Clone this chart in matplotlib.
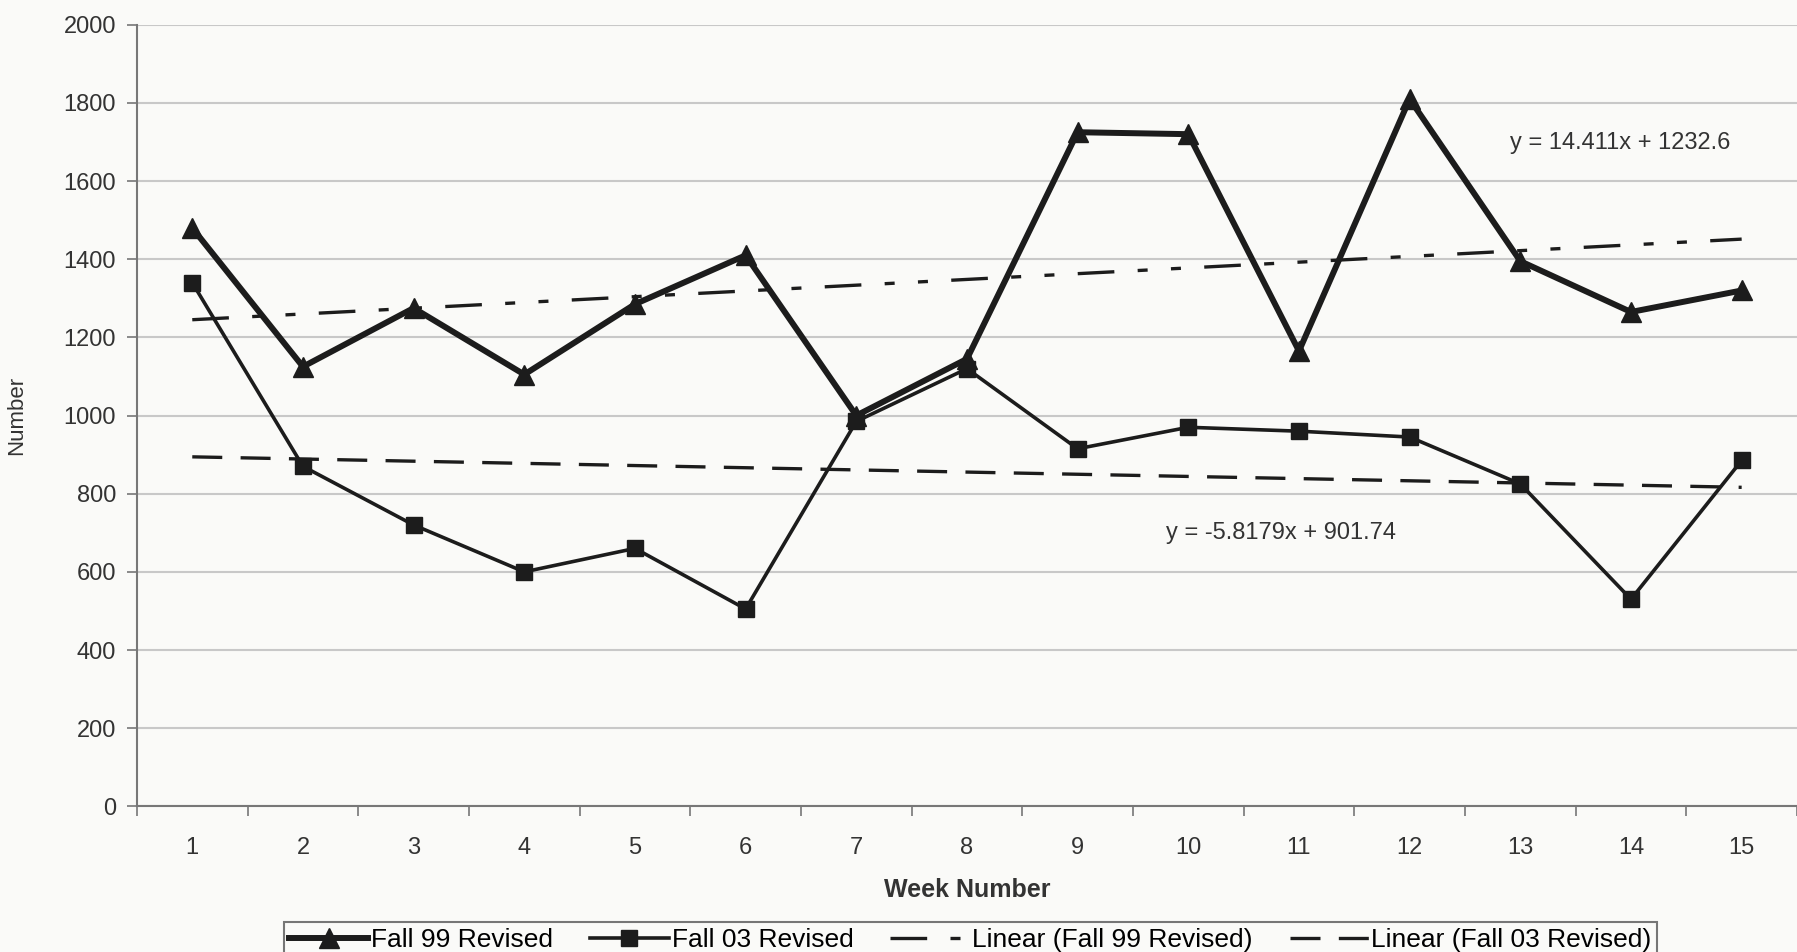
import numpy as np
import matplotlib
matplotlib.use("Agg")
import matplotlib.pyplot as plt

# === Data ===
WEEKS = list(range(1, 16))
FALL_99 = [1480, 1125, 1275, 1105, 1285, 1410, 1000, 1145, 1725, 1720, 1165, 1810, 1395, 1265, 1320]
FALL_03 = [1340, 870, 720, 600, 660, 505, 985, 1120, 915, 970, 960, 945, 825, 530, 885]
Y_TICKS = [0, 200, 400, 600, 800, 1000, 1200, 1400, 1600, 1800, 2000]

plt.rcParams['font.family'] = ['Liberation Sans', 'DejaVu Sans']

INK = '#1c1c1c'
BG = '#fafaf8'
TXT = '#333333'

fig = plt.figure(figsize=(17.97, 9.52), dpi=100, facecolor=BG)
ax = fig.add_axes([0.0762, 0.153, 0.9238, 0.821])
ax.set_facecolor(BG)

x = np.array(WEEKS)

# === Linear trend lines (least squares, like Excel) ===
m99, b99 = np.polyfit(x, FALL_99, 1)
m03, b03 = np.polyfit(x, FALL_03, 1)

ax.plot(x, FALL_99, color=INK, lw=4.3, marker='^', markersize=14, zorder=4,
        label='Fall 99 Revised')
ax.plot(x, FALL_03, color=INK, lw=2.6, marker='s', markersize=11.5, zorder=3,
        label='Fall 03 Revised')
ax.plot(x, m99 * x + b99, color=INK, lw=2.4, linestyle=(0, (11, 7, 3, 7, 3, 7)),
        zorder=2, label='Linear (Fall 99 Revised)')
ax.plot(x, m03 * x + b03, color=INK, lw=2.4, linestyle=(0, (9, 5.5)),
        zorder=2, label='Linear (Fall 03 Revised)')

ax.text(13.9, 1698, "y = 14.411x + 1232.6", ha='center', va='center',
        fontsize=17, color=TXT)
ax.text(10.84, 699, "y = -5.8179x + 901.74", ha='center', va='center',
        fontsize=17, color=TXT)

# === Axes styling ===
ax.set_xlim(0.5, 15.5)
ax.set_ylim(0, 2000)
ax.set_yticks(Y_TICKS)
ax.set_xticks(WEEKS)
ax.set_xticks(np.arange(0.5, 15.6, 1.0), minor=True)
ax.tick_params(axis='x', which='major', length=0, pad=22, labelsize=17, labelcolor=TXT)
ax.tick_params(axis='x', which='minor', length=7, width=1.2, color='#777777', direction='out')
ax.tick_params(axis='y', length=7, width=1.2, color='#777777', pad=8, labelsize=17,
               labelcolor=TXT)
ax.grid(axis='y', color='#c8c8c8', lw=1.5)
ax.set_axisbelow(True)
for side in ['top', 'right']:
    ax.spines[side].set_visible(False)
for side in ['left', 'bottom']:
    ax.spines[side].set_color('#777777')
    ax.spines[side].set_linewidth(1.5)

ax.set_xlabel("Week Number", fontsize=18, fontweight='bold', color=TXT, labelpad=14)
ax.set_ylabel("Number", fontsize=16, color=TXT, labelpad=26)

leg = fig.legend(loc='upper center', bbox_to_anchor=(0.54, 0.031), ncol=4, fontsize=19,
                 frameon=True, fancybox=False, edgecolor='#555555', facecolor=BG,
                 handlelength=3.0, handletextpad=0.1, columnspacing=1.4,
                 borderpad=0.2, borderaxespad=0)
leg.get_frame().set_linewidth(1.5)

fig.savefig("out.png", dpi=100, facecolor=BG)
